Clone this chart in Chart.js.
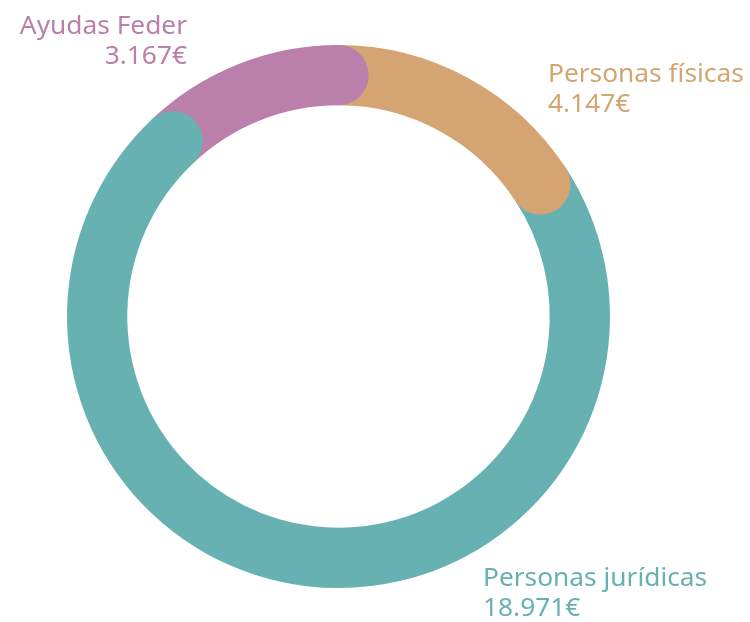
<!DOCTYPE html>
<html>
<head>
<meta charset="utf-8">
<script src="https://cdn.jsdelivr.net/npm/chart.js@4/dist/chart.umd.min.js"></script>
<style>
  html, body { margin: 0; padding: 0; background: #fff; }
  #wrap { position: relative; width: 750px; height: 622px; }
  canvas { position: absolute; left: 0; top: 0; }
  .lbl { position: absolute; font-family: "Noto Sans", sans-serif; font-size: 26.3px; line-height: 30px; white-space: nowrap; }
</style>
</head>
<body>
<div id="wrap">
  <canvas id="c" width="750" height="622"></canvas>
</div>
<script>
const categories = ["Personas físicas", "Personas jurídicas", "Ayudas Feder"];
const values = [4147, 18971, 3167];
const valueLabels = ["4.147€", "18.971€", "3.167€"];
const colors = ["#D4A472", "#68B1B2", "#BA7FAB"];

// label placement (layout only)
const labelPos = [
  { left: 548, top: 57, align: "left" },
  { left: 483, top: 561, align: "left" },
  { right: 563, top: 9, align: "right" }
];

const wrap = document.getElementById("wrap");
categories.forEach((cat, i) => {
  const d = document.createElement("div");
  d.className = "lbl";
  d.style.color = colors[i];
  d.style.top = labelPos[i].top + "px";
  d.style.textAlign = labelPos[i].align;
  if (labelPos[i].align === "left") d.style.left = labelPos[i].left + "px";
  else d.style.right = labelPos[i].right + "px";
  d.innerHTML = cat + "<br>" + valueLabels[i];
  wrap.appendChild(d);
});

const roundCaps = {
  id: "roundCaps",
  afterDatasetsDraw(chart) {
    const ctx = chart.ctx;
    const meta = chart.getDatasetMeta(0);
    meta.data.forEach((arc, i) => {
      const p = arc.getProps(["x", "y", "endAngle", "innerRadius", "outerRadius"], true);
      const r = (p.innerRadius + p.outerRadius) / 2;
      const capR = (p.outerRadius - p.innerRadius) / 2;
      const cx = p.x + r * Math.cos(p.endAngle);
      const cy = p.y + r * Math.sin(p.endAngle);
      ctx.save();
      ctx.fillStyle = colors[i];
      ctx.beginPath();
      ctx.arc(cx, cy, capR, 0, Math.PI * 2);
      ctx.fill();
      ctx.restore();
    });
  }
};

new Chart(document.getElementById("c"), {
  type: "doughnut",
  data: {
    labels: categories,
    datasets: [{
      data: values,
      backgroundColor: colors,
      borderWidth: 0,
      hoverOffset: 0
    }]
  },
  options: {
    responsive: false,
    animation: false,
    cutout: "77.8%",
    layout: { padding: { left: 67, right: 140, top: 45, bottom: 34 } },
    plugins: { legend: { display: false }, tooltip: { enabled: false } }
  },
  plugins: [roundCaps]
});
</script>
</body>
</html>
